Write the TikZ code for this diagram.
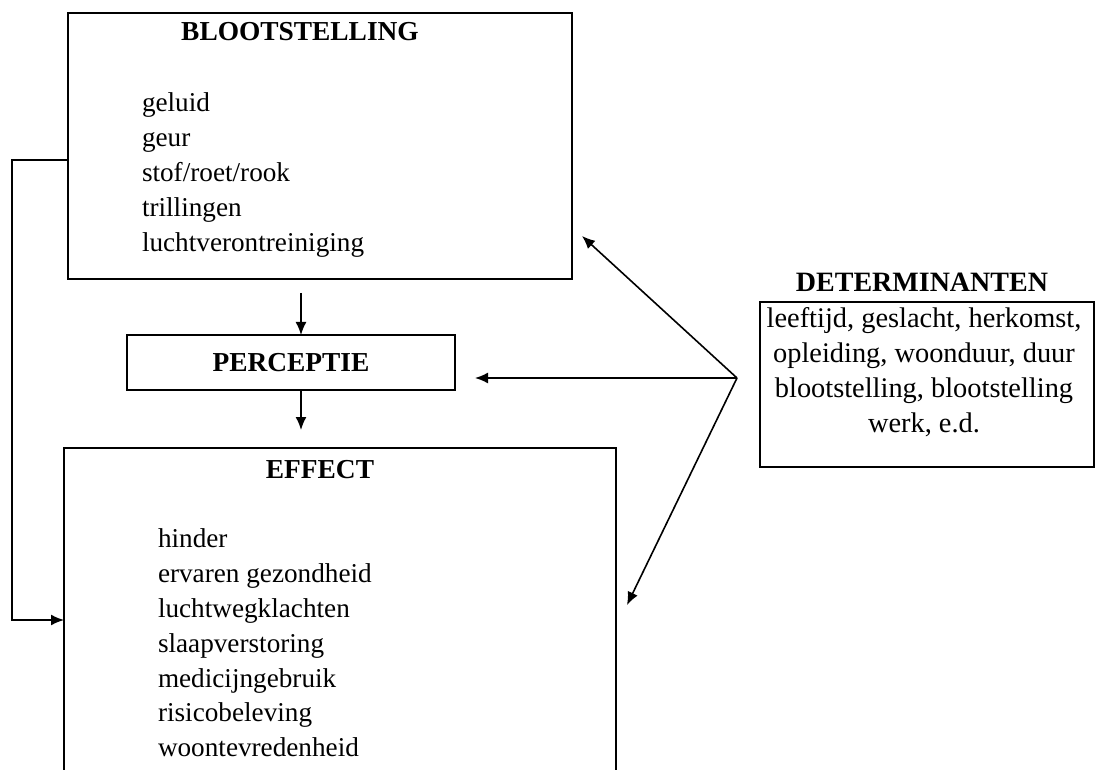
\documentclass[tikz,border=0pt]{standalone}
\usepackage{fontspec}
\setmainfont{Liberation Serif}
\usetikzlibrary{arrows.meta}

\begin{document}
\begin{tikzpicture}[x=0.5pt, y=-0.5pt,
  every node/.style={font=\fontsize{13.6pt}{17.4pt}\selectfont, outer sep=0pt},
  box/.style={draw, line width=1.2pt, inner sep=0pt},
  title/.style={font=\fontsize{13.7pt}{17.4pt}\selectfont\bfseries},
  list/.style={align=left, anchor=west, inner sep=0pt},
  arrow/.style={line width=0.8pt, -{Latex[length=6.5pt, width=5.5pt]}}]
\useasboundingbox (0,0) rectangle (1098,770);

\node[box, minimum width=252pt, minimum height=133pt] (bloot) at (320,146) {};
\node[box, minimum width=164pt, minimum height=27.5pt, title] (percep) at (291,362.5) {PERCEPTIE};
\node[box, minimum width=276pt, minimum height=166pt] (effect) at (340,614) {};
\node[box, minimum width=167pt, minimum height=82.5pt] (determ) at (927,384.5) {};

\node[title] (blootTitle) at (300,32) {BLOOTSTELLING};
\node[list] (blootList) at (142,175) {geluid\\geur\\stof/roet/rook\\trillingen\\luchtverontreiniging};

\node[title] (effectTitle) at (320,470) {EFFECT};
\node[list] (effectList) at (158,643) {hinder\\ervaren gezondheid\\luchtwegklachten\\slaapverstoring\\medicijngebruik\\risicobeleving\\woontevredenheid};

\node[title, font=\fontsize{14pt}{17.4pt}\selectfont\bfseries] (determTitle) at (922,282) {DETERMINANTEN};
\node[align=center, inner sep=0pt, font=\fontsize{14.2pt}{17.4pt}\selectfont] (determList) at (924,372) {leeftijd, geslacht, herkomst,\\opleiding, woonduur, duur\\blootstelling, blootstelling\\werk, e.d.};

\coordinate (hub) at (737,378);
\coordinate (tipBloot) at (582,236);
\coordinate (tipEffect) at (627,605);

\draw[arrow, shorten <=7pt] ([xshift=5pt]percep.north |- bloot.south) -- ([xshift=5pt]percep.north);
\draw[arrow, shorten >=9pt] ([xshift=5pt]percep.south) -- ([xshift=5pt]percep.south |- effect.north);
\draw[arrow] ([yshift=-7pt]bloot.west) -- ++(-28pt,0) |- ([yshift=-3pt]effect.west);

\draw[arrow] (hub) -- (tipBloot);
\draw[arrow] (hub) -- ([xshift=10pt]percep.east |- hub);
\draw[arrow] (hub) -- (tipEffect);
\end{tikzpicture}
\end{document}
